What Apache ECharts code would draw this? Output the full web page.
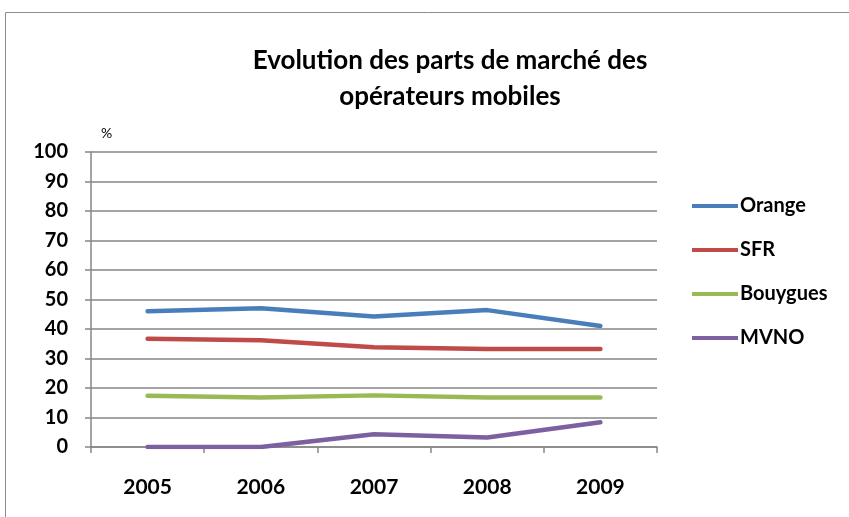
<!DOCTYPE html>
<html>
<head>
<meta charset="utf-8">
<script src="https://cdn.jsdelivr.net/npm/echarts@6/dist/echarts.min.js"></script>
<style>
  html, body { margin: 0; padding: 0; background: #fff; }
  #chart { width: 849px; height: 517px; }
</style>
</head>
<body>
<div id="chart"></div>
<script>
const years = ['2005', '2006', '2007', '2008', '2009'];
const orange = [46, 47, 44.2, 46.4, 41];
const sfr = [36.7, 36.2, 33.8, 33.2, 33.2];
const bouygues = [17.4, 16.8, 17.5, 16.8, 16.8];
const mvno = [0, 0, 4.3, 3.2, 8.4];

const chart = echarts.init(document.getElementById('chart'));
const font = 'Lato, "Open Sans", sans-serif';

function line(name, data, color) {
  return {
    name: name,
    type: 'line',
    data: data,
    symbol: 'none',
    lineStyle: { width: 4.5, color: color, cap: 'round' },
    itemStyle: { color: color }
  };
}

chart.setOption({
  animation: false,
  textStyle: { fontFamily: font },
  title: {
    text: 'Evolution des parts de marché des\nopérateurs mobiles',
    left: 445,
    top: 38,
    textAlign: 'center',
    textStyle: { fontSize: 26, fontWeight: 'bold', color: '#000', lineHeight: 36, fontFamily: font }
  },
  graphic: [{
    type: 'rect',
    shape: { x: 5.5, y: 12.5, width: 860, height: 520 },
    style: { fill: 'none', stroke: '#8c8c8c', lineWidth: 1 },
    silent: true
  }],
  legend: {
    orient: 'vertical',
    left: 687,
    top: 189,
    itemWidth: 46,
    itemHeight: 4,
    itemGap: 20,
    icon: 'rect',
    textStyle: { fontSize: 20, fontWeight: 'bold', color: '#000', fontFamily: font, padding: [0, 0, 0, -3], lineHeight: 24 },
    data: ['Orange', 'SFR', 'Bouygues', 'MVNO']
  },
  grid: { left: 91, right: 192, top: 152, bottom: 70, containLabel: false },
  xAxis: {
    type: 'category',
    data: years,
    boundaryGap: true,
    axisLine: { lineStyle: { color: '#868686', width: 1.5 } },
    axisTick: { show: true, length: 6, lineStyle: { color: '#868686', width: 1.5 } },
    axisLabel: { fontSize: 21, fontWeight: 'bold', color: '#000', margin: 30 }
  },
  yAxis: {
    type: 'value',
    min: 0,
    max: 100,
    interval: 10,
    name: '%',
    nameLocation: 'end',
    nameGap: 12,
    nameTextStyle: { fontSize: 14, color: '#000', align: 'left', padding: [0, 0, 0, 10] },
    axisLine: { show: true, lineStyle: { color: '#868686', width: 1.5 } },
    axisTick: { show: true, length: 6, lineStyle: { color: '#868686', width: 1.5 } },
    axisLabel: { fontSize: 20, fontWeight: 'bold', color: '#000', margin: 23 },
    splitLine: { lineStyle: { color: '#868686', width: 1.5 } }
  },
  series: [
    line('Orange', orange, '#4a7ebb'),
    line('SFR', sfr, '#be4b48'),
    line('Bouygues', bouygues, '#98b954'),
    line('MVNO', mvno, '#7d60a0')
  ]
});
</script>
</body>
</html>
